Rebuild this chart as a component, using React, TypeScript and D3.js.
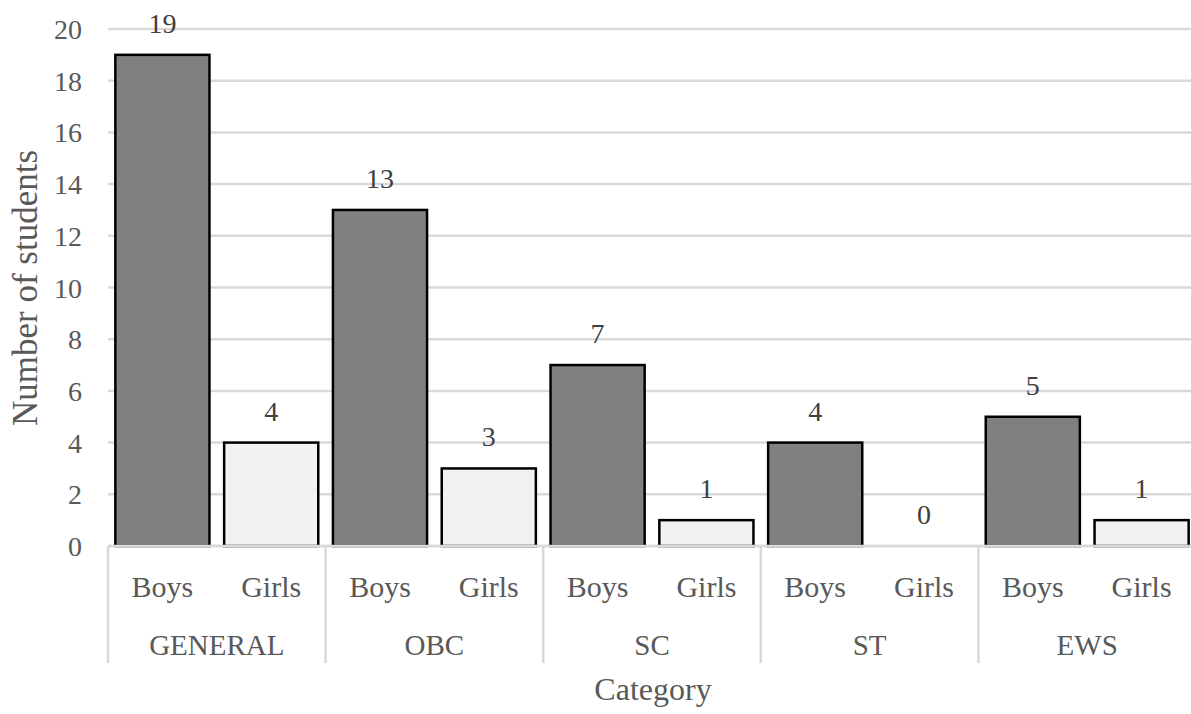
import React from "react";
import * as d3 from "d3";

const categories = ["GENERAL", "OBC", "SC", "ST", "EWS"];
const genders = ["Boys", "Girls"];
const boys = [19, 13, 7, 4, 5];
const girls = [4, 3, 1, 0, 1];
const yTicks = [0, 2, 4, 6, 8, 10, 12, 14, 16, 18, 20];

const W = 1191, H = 714;
const left = 108, right = 1196, top = 29, bottom = 546;
const font = "Liberation Serif, DejaVu Serif, serif";

export default function App() {
  const x0 = d3.scaleBand().domain(categories).range([left, right]).padding(0);
  const x1 = d3.scaleBand().domain(genders).range([0, x0.bandwidth()]).paddingInner(0.135).paddingOuter(0.0675);
  const y = d3.scaleLinear().domain([0, 20]).range([bottom, top]);
  const series = [boys, girls];
  const fills = ["#808080", "#f2f2f2"];
  return (
    <svg width={W} height={H} style={{ position: "absolute", left: 0, top: 0, background: "#fff", fontFamily: font }}>
      {yTicks.map((t) => (
        <g key={t}>
          <line x1={left} x2={right} y1={y(t)} y2={y(t)} stroke="#d9d9d9" strokeWidth={2.5} />
          <text x={82} y={y(t) + 10} textAnchor="end" fontSize={28} fill="#595959">{t}</text>
        </g>
      ))}
      {categories.map((c, ci) => (
        <g key={c}>
          {genders.map((g, gi) => {
            const v = series[gi][ci];
            const bx = (x0(c) as number) + (x1(g) as number);
            return (
              <g key={g}>
                {v > 0 && (
                  <rect x={bx} y={y(v)} width={x1.bandwidth()} height={bottom - y(v)} fill={fills[gi]} stroke="#000" strokeWidth={2.5} />
                )}
                <text x={bx + x1.bandwidth() / 2} y={y(v) - 22} textAnchor="middle" fontSize={28} fill="#404040">{v}</text>
                <text x={bx + x1.bandwidth() / 2} y={597} textAnchor="middle" fontSize={30} fill="#595959">{g}</text>
              </g>
            );
          })}
          <text x={(x0(c) as number) + x0.bandwidth() / 2} y={655} textAnchor="middle" fontSize={29} fill="#595959">{c}</text>
          <line x1={x0(c) as number} x2={x0(c) as number} y1={bottom} y2={663} stroke="#d9d9d9" strokeWidth={2.5} />
        </g>
      ))}
      <line x1={left} x2={right} y1={bottom} y2={bottom} stroke="#d9d9d9" strokeWidth={2.5} />
      <text x={653} y={700} textAnchor="middle" fontSize={32} fill="#595959">Category</text>
      <text transform={`translate(37, 288) rotate(-90)`} textAnchor="middle" fontSize={35} fill="#595959">Number of students</text>
    </svg>
  );
}
